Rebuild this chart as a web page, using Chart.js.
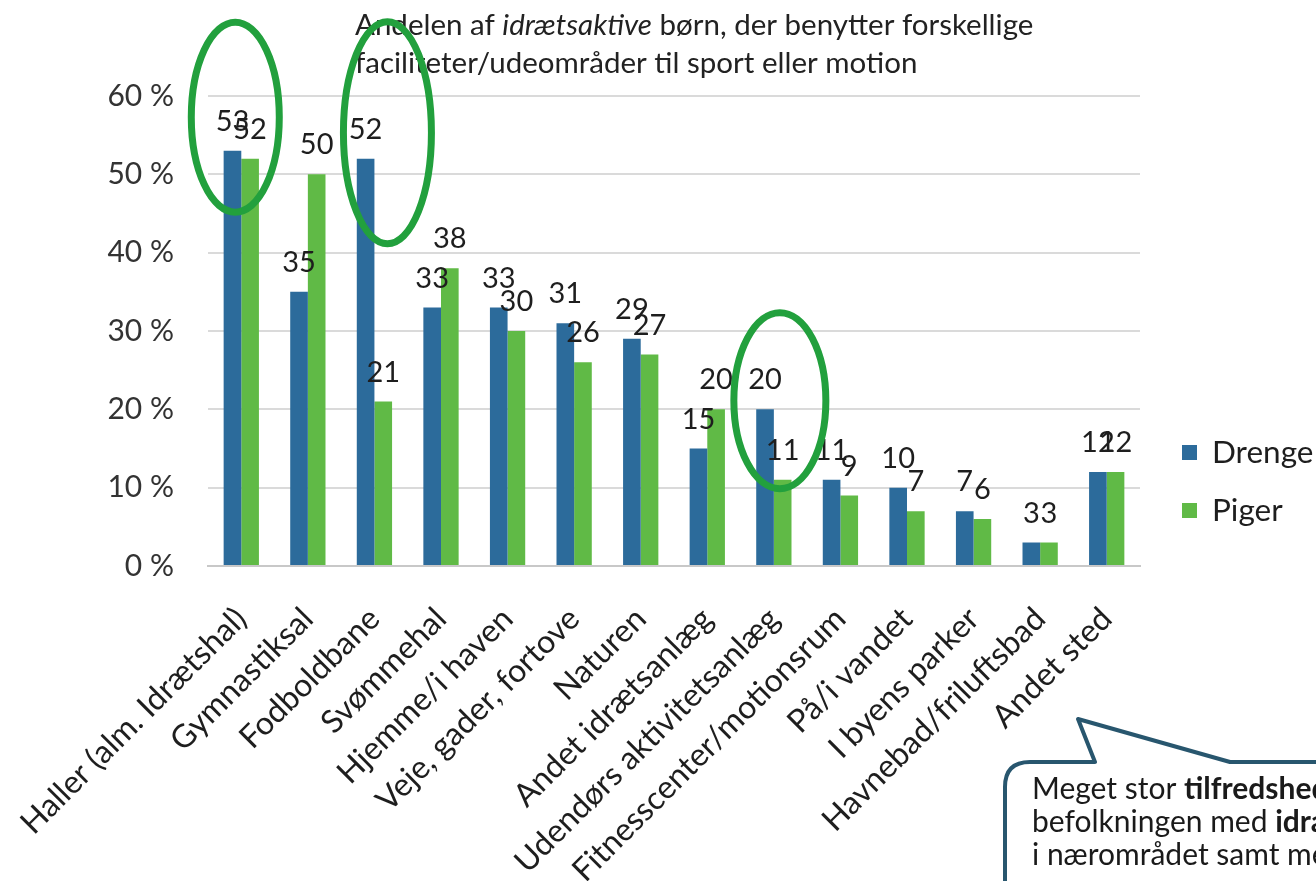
<!DOCTYPE html>
<html>
<head>
<meta charset="utf-8">
<script src="https://cdn.jsdelivr.net/npm/chart.js@4.4.0/dist/chart.umd.min.js"></script>
<style>body{margin:0;background:#fff}</style>
</head>
<body>
<canvas id="chart" width="1316" height="881"></canvas>
<script>
const categories = ["Haller (alm. Idrætshal)", "Gymnastiksal", "Fodboldbane", "Svømmehal", "Hjemme/i haven", "Veje, gader, fortove", "Naturen", "Andet idrætsanlæg", "Udendørs aktivitetsanlæg", "Fitnesscenter/motionsrum", "På/i vandet", "I byens parker", "Havnebad/friluftsbad", "Andet sted"];
const drenge = [53, 35, 52, 33, 33, 31, 29, 15, 20, 11, 10, 7, 3, 12];
const piger = [52, 50, 21, 38, 30, 26, 27, 20, 11, 9, 7, 6, 3, 12];
const seriesNames = ["Drenge", "Piger"];
const yMax = 60;
const yStep = 10;

const FONT = "Lato, 'Open Sans', sans-serif";
const BLUE = "#2c6b9b";
const GREEN = "#60ba46";

const barLabels = {
    id: "barLabels",
    afterDatasetsDraw(chart) {
        const ctx = chart.ctx;
        ctx.save();
        ctx.font = "29px " + FONT;
        ctx.fillStyle = "#1e1e1e";
        ctx.textAlign = "center";
        ctx.textBaseline = "alphabetic";
        chart.data.datasets.forEach((ds, i) => {
            chart.getDatasetMeta(i).data.forEach((bar, j) => {
                ctx.fillText(ds.data[j], bar.x, bar.y - 20);
            });
        });
        ctx.restore();
    }
};

const extras = {
    id: "extras",
    afterDraw(chart) {
        const ctx = chart.ctx;
        const x = chart.scales.x, y = chart.scales.y;
        ctx.save();

        // title, with one italic word
        const parts = [["Andelen af ", "normal"], ["idrætsaktive", "italic"], [" børn, der benytter forskellige", "normal"]];
        let tx = 355;
        ctx.fillStyle = "#222";
        ctx.textBaseline = "alphabetic";
        parts.forEach(([t, st]) => {
            ctx.font = st + " 29.5px " + FONT;
            ctx.fillText(t, tx, 35);
            tx += ctx.measureText(t).width;
        });
        ctx.font = "29.5px " + FONT;
        ctx.fillText("faciliteter/udeområder til sport eller motion", 355, 73);

        // green highlight rings
        ctx.strokeStyle = "#22a03d";
        ctx.lineWidth = 7;
        [[0, -6, 57.3, 44, 95], [2, 13, 55.3, 44, 111], [8, 6, 21.1, 46, 88]].forEach(([idx, dx, v, rx, ry]) => {
            ctx.beginPath();
            ctx.ellipse(x.getPixelForValue(idx) + dx, y.getPixelForValue(v), rx, ry, 0, 0, Math.PI * 2);
            ctx.stroke();
        });

        // legend
        [BLUE, GREEN].forEach((c, i) => {
            const ly = 445 + i * 58;
            ctx.fillStyle = c;
            ctx.fillRect(1182, ly, 15, 15);
            ctx.fillStyle = "#1e1e1e";
            ctx.font = "31.5px " + FONT;
            ctx.textBaseline = "middle";
            ctx.fillText(seriesNames[i], 1212, ly + 8);
        });

        // callout box
        ctx.strokeStyle = "#28566e";
        ctx.lineWidth = 4;
        ctx.lineJoin = "round";
        ctx.beginPath();
        ctx.moveTo(1340, 762);
        ctx.lineTo(1230, 762);
        ctx.lineTo(1078, 719);
        ctx.lineTo(1095, 762);
        ctx.lineTo(1030, 762);
        ctx.quadraticCurveTo(1005, 762, 1005, 787);
        ctx.lineTo(1005, 900);
        ctx.stroke();

        const lines = [
            [["Meget stor ", "normal"], ["tilfredshed", "bold"], [" i", "normal"]],
            [["befolkningen med ", "normal"], ["idrætsfaciliteter", "bold"]],
            [["i nærområdet samt med", "normal"]]
        ];
        ctx.fillStyle = "#1a1a1a";
        ctx.textBaseline = "alphabetic";
        lines.forEach((ln, k) => {
            let lx = 1032;
            ln.forEach(([t, w]) => {
                ctx.font = w + " 30px " + FONT;
                ctx.fillText(t, lx, 799 + k * 33);
                lx += ctx.measureText(t).width;
            });
        });
        ctx.restore();
    }
};

new Chart(document.getElementById("chart"), {
    type: "bar",
    data: {
        labels: categories,
        datasets: [
            { label: seriesNames[0], data: drenge, backgroundColor: BLUE },
            { label: seriesNames[1], data: piger, backgroundColor: GREEN }
        ]
    },
    options: {
        responsive: false,
        animation: false,
        layout: { padding: { top: 96, right: 176, left: 0, bottom: 0 } },
        datasets: { bar: { barPercentage: 1, categoryPercentage: 0.53 } },
        plugins: { legend: { display: false }, tooltip: { enabled: false } },
        scales: {
            x: {
                grid: { display: false },
                border: { color: "#c8c8c8", width: 2 },
                ticks: { autoSkip: false, minRotation: 45, maxRotation: 45, padding: 26, color: "#1e1e1e", font: { family: FONT, size: 32 } },
                afterFit(scale) {
                    scale.height = 315;
                    scale.paddingLeft = 0;
                    scale.paddingRight = 0;
                }
            },
            y: {
                min: 0, max: yMax,
                grid: { color: "#dadada", lineWidth: 2, drawTicks: false },
                border: { display: false },
                ticks: { stepSize: yStep, padding: 34, color: "#333", font: { family: FONT, size: 30 }, callback: v => v + " %" },
                afterFit(scale) { scale.width = 208; }
            }
        }
    },
    plugins: [barLabels, extras]
});
</script>
</body>
</html>
